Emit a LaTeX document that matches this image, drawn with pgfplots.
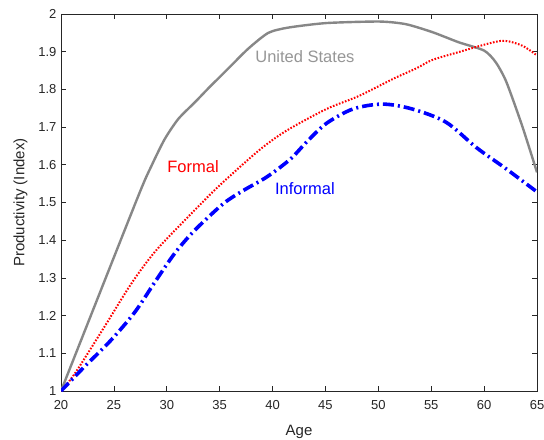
\documentclass[border=0pt]{standalone}
\usepackage{fontspec}
\setmainfont{Liberation Sans}
\usepackage{pgfplots}
\pgfplotsset{compat=1.18}
\usetikzlibrary{calc}
\definecolor{axgray}{RGB}{38,38,38}
\definecolor{usgray}{RGB}{135,135,135}
\definecolor{uslabel}{RGB}{150,150,150}

\begin{document}
\begin{tikzpicture}
\begin{axis}[
    scale only axis,
    width=476pt, height=377pt,
    xmin=20, xmax=65, ymin=1, ymax=2,
    xtick={20,25,...,65},
    ytick={1,1.1,...,2.01},
    tick align=inside,
    axis line style={axgray, line width=0.6pt},
    tick style={axgray, line width=0.6pt},
    major tick length=5pt,
    ticklabel style={axgray, font=\fontsize{13}{15}\selectfont},
    /pgf/number format/assume math mode=true,
    yticklabel style={/pgf/number format/fixed, xshift=-1pt},
    xticklabel style={yshift=-6pt},
    xlabel={Age}, ylabel={Productivity (Index)},
    label style={axgray, font=\fontsize{15}{17}\selectfont},
    xlabel style={yshift=-9pt},
    ylabel style={yshift=4pt},
    clip=true
]
% United States
\addplot[usgray, line width=2.4pt, smooth, tension=0.4] coordinates {
(20,1) (27.2,1.51) (28.55,1.597) (29.8,1.668) (31.1,1.722) (32.7,1.767)
(33.9,1.802) (35.8,1.855) (37.7,1.908) (39.6,1.950) (41.5,1.964) (45.1,1.976)
(50.1,1.98) (52.6,1.973) (55.1,1.952) (57.6,1.925) (60,1.903) (61.1,1.872)
(62.1,1.82) (63.6,1.703) (65,1.58)};
% Formal
\addplot[red, line width=2pt, dash pattern=on 1.6pt off 1.6pt, smooth, tension=0.5] coordinates {
(20,1) (21.3,1.046) (24.1,1.17) (26.65,1.285) (28.9,1.37)
(31.6,1.45) (33,1.49) (34.6,1.535) (36.9,1.594) (39.1,1.647) (41.4,1.692)
(45.1,1.748) (48.2,1.783) (51.4,1.828) (53.6,1.856) (55.1,1.878)
(57.6,1.899) (60.2,1.92) (61.9,1.929) (63.6,1.916) (65,1.89)};
% Informal
\addplot[blue, line width=3.6pt, dash pattern=on 11pt off 4pt on 2pt off 4pt, smooth, tension=0.5] coordinates {
(20,1) (22.2,1.064) (24.7,1.134) (27,1.21) (28.9,1.29) (30.8,1.367)
(32.7,1.428) (35.35,1.497) (37.25,1.532) (39.47,1.568) (41.68,1.615)
(43.27,1.662) (45.1,1.71) (47.6,1.748) (50.4,1.761) (53.2,1.748)
(56.4,1.713) (59.3,1.645) (62.1,1.589) (65,1.528)};
\node[uslabel, font=\fontsize{16.5}{18}\selectfont] at (axis cs:43.06,1.886) {United States};
\node[red, font=\fontsize{16.5}{18}\selectfont] at (axis cs:32.48,1.594) {Formal};
\node[blue, font=\fontsize{16.5}{18}\selectfont] at (axis cs:43.06,1.538) {Informal};
\end{axis}
\pgfresetboundingbox
\path ($(current axis.south west)+(-61pt,-48pt)$) rectangle ($(current axis.north east)+(7pt,14pt)$);
\end{tikzpicture}
\end{document}
